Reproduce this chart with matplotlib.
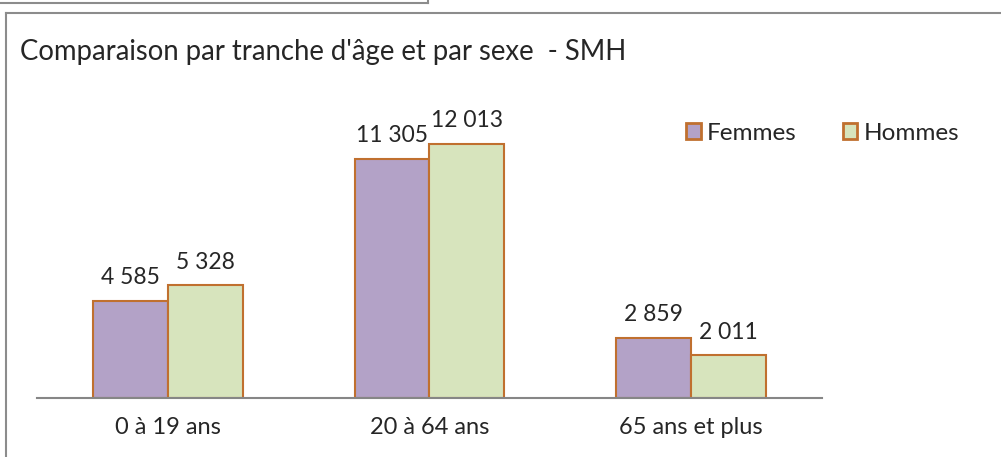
import numpy as np
import matplotlib.pyplot as plt
from matplotlib.lines import Line2D
from matplotlib.patches import Patch

# Data
categories = ['0 à 19 ans', '20 à 64 ans', '65 ans et plus']
femmes = [4585, 11305, 2859]
hommes = [5328, 12013, 2011]
series_names = ['Femmes', 'Hommes']

def fmt(v):
    return '{:,}'.format(v).replace(',', ' ')

plt.rcParams['font.family'] = ['Lato', 'DejaVu Sans']

W, H = 1001, 457
fig = plt.figure(figsize=(W / 100, H / 100), dpi=100)

c_f = '#b3a2c7'
c_h = '#d7e4bd'
edge = '#c0702f'
txt = '#262626'

ax = fig.add_axes([37 / W, (H - 398) / H, (822 - 37) / W, 296 / H])
x = np.arange(len(categories))
w = 0.286
bf = ax.bar(x - w / 2, femmes, w, color=c_f, edgecolor=edge, linewidth=1.5)
bh = ax.bar(x + w / 2, hommes, w, color=c_h, edgecolor=edge, linewidth=1.5)

for bars, vals in ((bf, femmes), (bh, hommes)):
    for b, v in zip(bars, vals):
        ax.text(b.get_x() + b.get_width() / 2, v + 600, fmt(v), ha='center', va='bottom',
                fontsize=16.5, color=txt)

ax.set_xlim(-0.5, 2.5)
ax.set_ylim(0, 14000)
ax.set_yticks([])
ax.set_xticks(x)
ax.set_xticklabels(categories, fontsize=17, color=txt)
ax.tick_params(axis='x', length=0, pad=14)
for s in ['top', 'right', 'left']:
    ax.spines[s].set_visible(False)
ax.spines['bottom'].set_color('#868686')
ax.spines['bottom'].set_linewidth(1.5)

fig.text(20 / W, 1 - 52 / H, "Comparaison par tranche d'âge et par sexe  - SMH",
         fontsize=19.8, color=txt, va='center', ha='left')

handles = [Patch(facecolor=c_f, edgecolor=edge, linewidth=2),
           Patch(facecolor=c_h, edgecolor=edge, linewidth=2)]
fig.legend(handles, series_names, loc='center left', bbox_to_anchor=(686 / W, 1 - 133 / H),
           ncol=2, frameon=False, fontsize=17.5, handlelength=0.6, handleheight=0.6,
           handletextpad=0.25, columnspacing=1.9, labelcolor=txt, borderpad=0,
           borderaxespad=0)

# frames
gray = '#8c8c8c'
fig.add_artist(Line2D([0, 428 / W], [1 - 3 / H, 1 - 3 / H], color=gray, lw=1.5, transform=fig.transFigure))
fig.add_artist(Line2D([428 / W, 428 / W], [1, 1 - 3 / H], color=gray, lw=1.5, transform=fig.transFigure))
fig.add_artist(Line2D([6 / W, 1], [1 - 13 / H, 1 - 13 / H], color=gray, lw=1.5, transform=fig.transFigure))
fig.add_artist(Line2D([6 / W, 6 / W], [0, 1 - 13 / H], color=gray, lw=1.5, transform=fig.transFigure))

fig.savefig('out.png', dpi=100)
